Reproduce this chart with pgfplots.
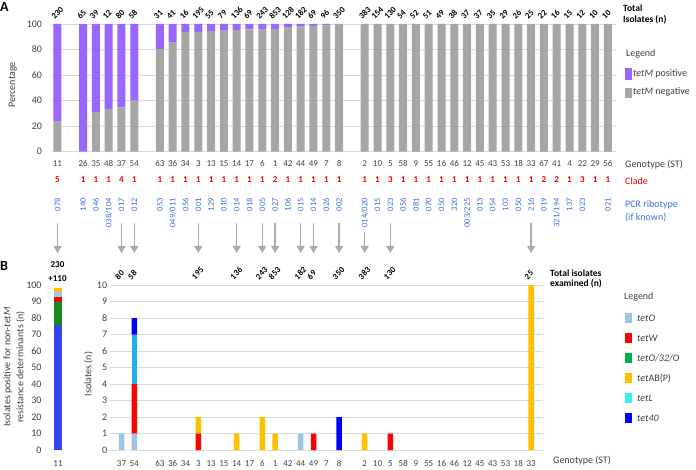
\documentclass[border=0pt]{standalone}
\usepackage{graphicx}
\usepackage{fontspec}
\setmainfont{Carlito}
\usepackage{pgfplots}
\pgfplotsset{compat=1.18}
\usetikzlibrary{arrows.meta}
\definecolor{cpurple}{HTML}{9966FF}
\definecolor{cgray}{HTML}{A6A6A6}
\definecolor{cgrid}{HTML}{D9D9D9}
\definecolor{ctext}{HTML}{404040}
\definecolor{cred}{HTML}{F00000}
\definecolor{cblue}{HTML}{3D6FDB}
\definecolor{ctetO}{HTML}{9DC3E6}
\definecolor{ctetW}{HTML}{FF0000}
\definecolor{cgreenbar}{HTML}{178A1C}
\definecolor{cgreenleg}{HTML}{00B050}
\definecolor{ctetAB}{HTML}{FFC000}
\definecolor{ctetLbar}{HTML}{1EB0F0}
\definecolor{ctetLleg}{HTML}{33F2F2}
\definecolor{ctet40}{HTML}{0000FF}
\definecolor{ctet40b}{HTML}{3344F0}
\definecolor{carrow}{HTML}{ADADAD}
\newcommand{\diag}[1]{\rotatebox{45}{\bfseries\fontsize{8.5}{10}\selectfont #1}}
\pgfplotsset{
  base/.style={
    scale only axis, axis line style={draw=none},
    major tick length=0pt, tick style={draw=none},
    grid style={cgrid, line width=0.75pt},
    tick label style={font=\fontsize{10}{12}\selectfont, text=ctext},
    /pgf/number format/assume math mode=true,
    yticklabel style={inner sep=0pt},
    xticklabel style={inner sep=0pt, font=\fontsize{9}{11}\selectfont},
    clip=false,
  },
}
\begin{document}
\begin{tikzpicture}
\path[use as bounding box] (0pt,0pt) rectangle (696pt,469pt);
% ---------------- Panel A ----------------
\begin{axis}[base,
  at={(51.7pt,317.3pt)}, anchor=south west,
  width=564.3pt, height=127.7pt,
  xmin=-0.45, xmax=43.63, ymin=0, ymax=100,
  ytick={0,20,40,60,80,100}, ymajorgrids,
  yticklabel style={xshift=-9.5pt},
  xtick={0,2,3,4,5,6,8,9,10,11,12,13,14,15,16,17,18,19,20,21,22,24,25,26,27,28,29,30,31,32,33,34,35,36,37,38,39,40,41,42,43},
  xticklabels={11,26,35,48,37,54,63,36,34,3,13,15,14,17,6,1,42,44,49,7,8,2,10,5,58,9,55,16,46,12,45,43,53,18,33,67,41,4,22,29,56},
  xticklabel style={anchor=base, yshift=-15pt},
  ybar stacked, bar width=8pt]
\addplot[fill=cgray, draw=none] coordinates {
 (0,23.5) (2,0) (3,30.9) (4,33.4) (5,34.8) (6,40)
 (8,80.6) (9,85.4) (10,93.75) (11,93.8) (12,94.5) (13,94.9) (14,95.4) (15,95.7) (16,95.5) (17,96.2) (18,97.5) (19,98) (20,98.5) (21,99) (22,99.7)
 (24,100) (25,100) (26,100) (27,100) (28,100) (29,100) (30,100) (31,100) (32,100) (33,100) (34,100) (35,100) (36,100) (37,100) (38,100) (39,100) (40,100) (41,100) (42,100) (43,100)};
\addplot[fill=cpurple, draw=none] coordinates {
 (0,76.5) (2,100) (3,69.1) (4,66.6) (5,65.2) (6,60)
 (8,19.4) (9,14.6) (10,6.25) (11,6.2) (12,5.5) (13,5.1) (14,4.6) (15,4.3) (16,4.5) (17,3.8) (18,2.5) (19,2) (20,1.5) (21,1) (22,0.3)
 (24,0) (25,0) (26,0) (27,0) (28,0) (29,0) (30,0) (31,0) (32,0) (33,0) (34,0) (35,0) (36,0) (37,0) (38,0) (39,0) (40,0) (41,0) (42,0) (43,0)};
\end{axis}
% ---------------- Panel B (left) ----------------
\begin{axis}[base,
  at={(46pt,19pt)}, anchor=south west, width=24pt, height=165pt,
  xmin=-0.5, xmax=0.5, ymin=0, ymax=100,
  ytick={0,10,...,100}, yticklabel style={xshift=-4.3pt},
  xtick={0}, xticklabels={11}, xticklabel style={anchor=base, yshift=-16.3pt},
  ybar stacked, bar width=7.5pt]
\addplot[fill=ctet40b, draw=none] coordinates {(0,76)};
\addplot[fill=cgreenbar, draw=none] coordinates {(0,14)};
\addplot[fill=ctetW, draw=none] coordinates {(0,3)};
\addplot[fill=ctetO, draw=none] coordinates {(0,3)};
\addplot[fill=ctetAB, draw=none] coordinates {(0,2)};
\end{axis}
% ---------------- Panel B (main) ----------------
\begin{axis}[base,
  at={(110pt,19pt)}, anchor=south west, width=433pt, height=165pt,
  xmin=4.1016, xmax=37.93, ymin=0, ymax=10,
  ytick={0,1,...,10}, ymajorgrids, yticklabel style={xshift=-2.7pt},
  xtick={5,6,8,9,10,11,12,13,14,15,16,17,18,19,20,21,22,24,25,26,27,28,29,30,31,32,33,34,35,36,37},
  xticklabels={37,54,63,36,34,3,13,15,14,17,6,1,42,44,49,7,8,2,10,5,58,9,55,16,46,12,45,43,53,18,33},
  xticklabel style={anchor=base, yshift=-16.3pt},
  ybar stacked, bar width=5.5pt]
% x: 5 6 11 14 16 17 19 20 22 24 26 37
\addplot[fill=ctetO, draw=none] coordinates {(5,1) (6,1) (11,0) (14,0) (16,0) (17,0) (19,1) (20,0) (22,0) (24,0) (26,0) (37,0)};
\addplot[fill=ctetW, draw=none] coordinates {(5,0) (6,3) (11,1) (14,0) (16,0) (17,0) (19,0) (20,1) (22,0) (24,0) (26,1) (37,0)};
\addplot[fill=ctetAB, draw=none] coordinates {(5,0) (6,0) (11,1) (14,1) (16,2) (17,1) (19,0) (20,0) (22,0) (24,1) (26,0) (37,10)};
\addplot[fill=ctetLbar, draw=none] coordinates {(5,0) (6,3) (11,0) (14,0) (16,0) (17,0) (19,0) (20,0) (22,0) (24,0) (26,0) (37,0)};
\addplot[fill=ctet40, draw=none] coordinates {(5,0) (6,1) (11,0) (14,0) (16,0) (17,0) (19,0) (20,0) (22,2) (24,0) (26,0) (37,0)};
\end{axis}
% ---------------- annotations ----------------
\begin{scope}[x=1pt,y=1pt]
\node[anchor=north west, inner sep=0pt, font=\bfseries\fontsize{14}{16}\selectfont] at (0,467) {A};
\node[anchor=north west, inner sep=0pt, font=\bfseries\fontsize{14}{16}\selectfont] at (0,208) {B};
\node[rotate=90, font=\fontsize{10}{12}\selectfont, text=ctext] at (12.7,384) {Percentage};
% totals above A bars
\foreach \i/\n in {0/230,2/65,3/39,4/12,5/80,6/58,8/31,9/41,10/16,11/195,12/55,13/79,14/136,15/69,16/243,17/853,18/128,19/182,20/69,21/96,22/350,24/383,25/154,26/130,27/54,28/52,29/51,30/49,31/38,32/37,33/37,34/35,35/29,36/26,37/25,38/22,39/16,40/15,41/12,42/10,43/10}
  \node[anchor=base west, inner sep=0pt] at ({57.5+12.8*\i-6.8},449) {\diag{\n}};
\node[anchor=base west, inner sep=0pt, font=\bfseries\fontsize{9.5}{11}\selectfont] at (623,457) {Total};
\node[anchor=base west, inner sep=0pt, font=\bfseries\fontsize{9.5}{11}\selectfont] at (623,446) {Isolates (n)};
% legend A
\node[anchor=base west, inner sep=0pt, font=\fontsize{10}{12}\selectfont, text=ctext] at (626,412.5) {Legend};
\fill[cpurple] (625,389) rectangle (632,401);
\node[anchor=base west, inner sep=0pt, font=\fontsize{10}{12}\selectfont, text=ctext] at (633,392) {\textit{tetM} positive};
\fill[cgray] (625,371) rectangle (632,381);
\node[anchor=base west, inner sep=0pt, font=\fontsize{10}{12}\selectfont, text=ctext] at (633,374) {\textit{tetM} negative};
% clade row
\foreach \i/\c in {0/5,2/1,3/1,4/1,5/4,6/1,8/1,9/1,10/1,11/1,12/1,13/1,14/1,15/1,16/1,17/2,18/1,19/1,20/1,21/1,22/1,24/1,25/1,26/3,27/1,28/1,29/1,30/1,31/1,32/1,33/1,34/1,35/1,36/1,37/1,38/2,39/2,40/1,41/3,42/1,43/1}
  \node[anchor=base, inner sep=0pt, text=cred, font=\bfseries\fontsize{9}{11}\selectfont] at ({57.5+12.8*\i},286) {\c};
% ribotype row
\foreach \i/\r in {0/078,2/140,3/046,4/038\slash 104,5/017,6/012,8/053,9/049\slash 011,10/056,11/001,12/129,13/010,14/014,15/018,16/005,17/027,18/106,19/015,20/014,21/026,22/002,24/014\slash 020,25/015,26/023,27/056,28/081,29/070,30/050,31/320,32/003\slash 225,33/013,34/054,35/103,36/050,37/216,38/019,39/321\slash 194,40/137,41/023,43/021}
  \node[rotate=90, anchor=east, inner sep=0pt, text=cblue, font=\fontsize{8.5}{10}\selectfont] at ({57.5+12.8*\i},271) {\r};
\node[anchor=base west, inner sep=0pt, font=\fontsize{10}{12}\selectfont, text=ctext] at (625,301.5) {Genotype (ST)};
\node[anchor=base west, inner sep=0pt, font=\fontsize{10}{12}\selectfont, text=cred] at (625,284.5) {Clade};
\node[anchor=base west, inner sep=0pt, font=\fontsize{10}{12}\selectfont, text=cblue] at (625,261) {PCR ribotype};
\node[anchor=base west, inner sep=0pt, font=\fontsize{10}{12}\selectfont, text=cblue] at (625,248) {(if known)};
% arrows
\foreach \i in {0,5,6,11,14,16,17,19,20,22,26,37}
  \draw[carrow, line width=1.4pt, -{Triangle[length=7pt,width=8pt]}] ({57.5+12.8*\i},246) -- ({57.5+12.8*\i},216);
\draw[carrow, line width=1.4pt, -{Triangle[length=7pt,width=8pt]}] ({57.5+12.8*24},237) -- ({57.5+12.8*24},216);
% panel B labels
\node[anchor=base, inner sep=0pt, font=\bfseries\fontsize{9}{11}\selectfont] at (57.5,201) {230};
\node[anchor=base, inner sep=0pt, font=\bfseries\fontsize{9}{11}\selectfont] at (57.5,187.5) {+110};
\foreach \i/\n in {5/80,6/58,11/195,14/136,16/243,17/853,19/182,20/69,22/350,24/383,26/130,37/25}
  \node[anchor=base west, inner sep=0pt] at ({57.5+12.8*\i-7.3},189) {\diag{\n}};
\node[anchor=base west, inner sep=0pt, font=\bfseries\fontsize{9.5}{11}\selectfont] at (550,193) {Total isolates};
\node[anchor=base west, inner sep=0pt, font=\bfseries\fontsize{9.5}{11}\selectfont] at (550,182.5) {examined (n)};
\node[rotate=90, align=center, font=\fontsize{10}{13}\selectfont, text=ctext] at (14,102) {Isolates positive for non-\textit{tetM}\\resistance determinants (n)};
\node[rotate=90, font=\fontsize{10}{12}\selectfont, text=ctext] at (88.5,95) {Isolates (n)};
\node[anchor=base west, inner sep=0pt, font=\fontsize{10}{12}\selectfont, text=ctext] at (553,5.5) {Genotype (ST)};
% legend B
\node[anchor=base west, inner sep=0pt, font=\fontsize{10}{12}\selectfont, text=ctext] at (624,169) {Legend};
\foreach \k/\c/\t in {0/ctetO/tetO,1/ctetW/tetW,2/cgreenleg/tetO\slash 32\slash O,3/ctetAB/tet{\upshape AB(P)},4/ctetLleg/tetL,5/ctet40/tet40}{
  \fill[\c] (625,{469-318-20*\k-5}) rectangle (632,{469-318-20*\k+5});
  \node[anchor=base west, inner sep=0pt, font=\itshape\fontsize{10}{12}\selectfont, text=ctext] at (637,{469-318-20*\k-3.5}) {\t};
}
\end{scope}
\end{tikzpicture}
\end{document}
